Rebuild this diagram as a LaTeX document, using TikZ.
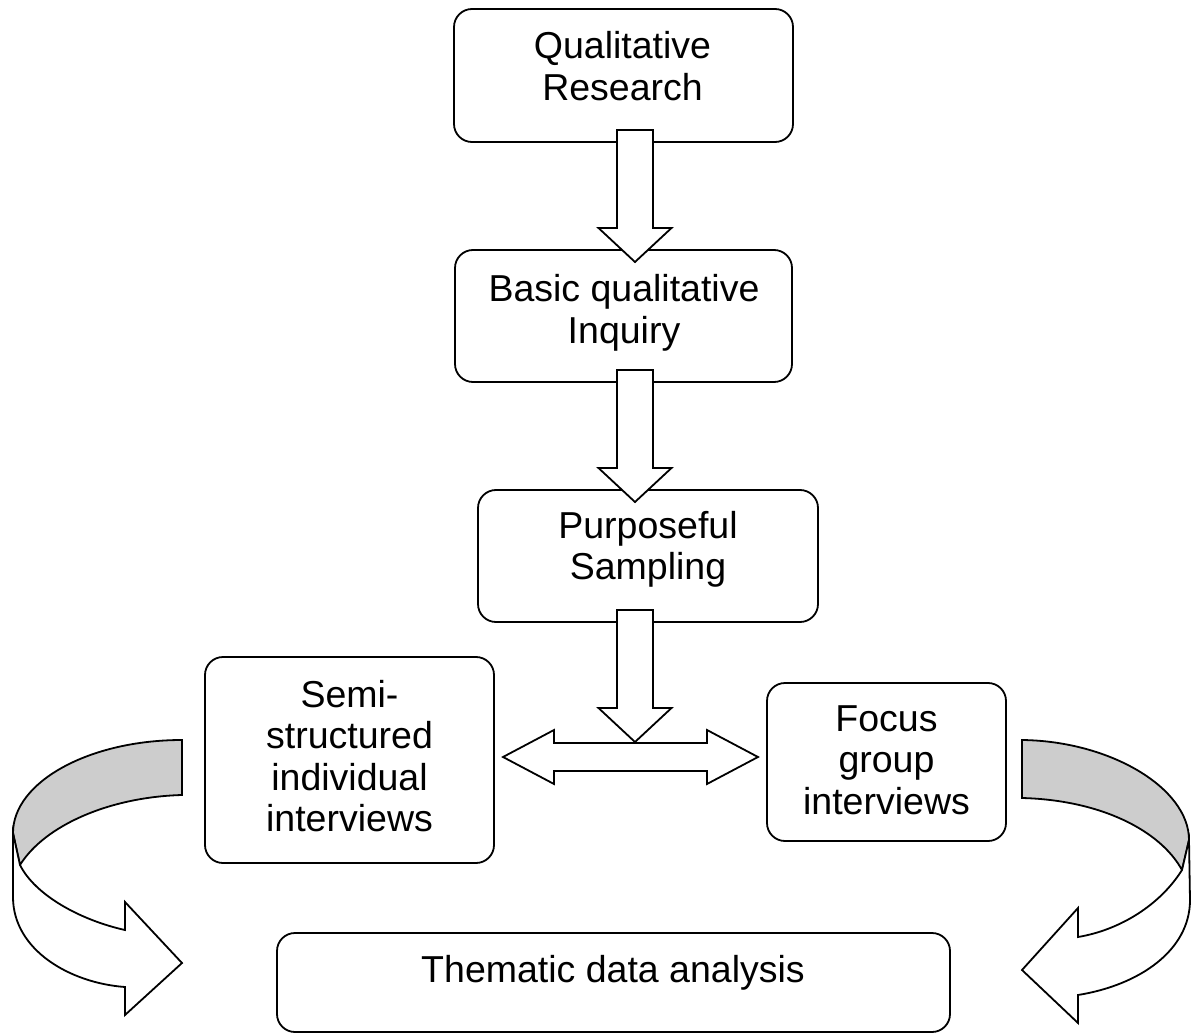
\documentclass[tikz,border=0pt]{standalone}
\usepackage{fontspec}
\setmainfont{Liberation Sans}
\definecolor{bandgray}{RGB}{205,205,205}

% fat downward block arrow: centre x, top of shaft, tip
\newcommand\downblock[3]{%
  \draw[blockarrow] (#1-18,#2) -- (#1+18,#2) -- (#1+18,#3-34) -- (#1+36.5,#3-34)
    -- (#1,#3) -- (#1-36.5,#3-34) -- (#1-18,#3-34) -- cycle;}

\begin{document}
\begin{tikzpicture}[x=1pt,y=-1pt,
  outline/.style={draw=black,line width=1.8pt,line join=miter},
  stepbox/.style={outline,rounded corners=18pt,fill=white,inner sep=0pt},
  caption/.style={align=center,inner sep=0pt,
    font=\fontsize{37.5}{41.5}\selectfont,
    execute at begin node={\rule{0pt}{30pt}},
    execute at end node={\rule[-9pt]{0pt}{9pt}}},
  blockarrow/.style={outline,fill=white},
  band/.style={outline,fill=bandgray}]

\useasboundingbox (0,0) rectangle (1192,1035);

% ---- left ribbon arrow (back side grey, front side white) ----
\draw[band] (182,740) -- (182,795) .. controls (110,797) and (45,825) .. (20,865)
  -- (13,833) .. controls (13,782) and (89,740) .. (182,740) -- cycle;
\draw[blockarrow] (13,833) -- (13,897) .. controls (13,950) and (70,983) .. (125,987)
  -- (125,1015) -- (182,963) -- (125,902) -- (125,930)
  .. controls (80,920) and (35,895) .. (20,865) -- cycle;

% ---- right ribbon arrow ----
\draw[band] (1022,740) -- (1022,798) .. controls (1100,800) and (1160,830) .. (1182,870)
  -- (1189,840) .. controls (1189,788) and (1110,741) .. (1022,740) -- cycle;
\draw[blockarrow] (1189,840) -- (1190,900) .. controls (1190,950) and (1140,985) .. (1078,995)
  -- (1078,1023) -- (1022,970) -- (1078,908) -- (1078,937)
  .. controls (1120,930) and (1160,905) .. (1182,870) -- cycle;

% ---- boxes ----
\node[stepbox,minimum width=339pt,minimum height=133pt] (qr)  at (623.5,75.5) {};
\node[stepbox,minimum width=337pt,minimum height=132pt] (bqi) at (623.5,316) {};
\node[stepbox,minimum width=340pt,minimum height=132pt] (ps)  at (648,556) {};
\node[stepbox,minimum width=289pt,minimum height=206pt] (ssi) at (349.5,760) {};
\node[stepbox,minimum width=239pt,minimum height=158pt] (fgi) at (886.5,762) {};
\node[stepbox,minimum width=673pt,minimum height=99pt]  (tda) at (613.5,982.5) {};

% ---- box captions ----
\node[caption] (qr-text)  at (622.5,70.5)  {Qualitative\\Research};
\node[caption] (bqi-text) at (624,313.5)   {Basic qualitative\\Inquiry};
\node[caption] (ps-text)  at (648,550)     {Purposeful\\Sampling};
\node[caption] (ssi-text) at (349.5,760.5) {Semi-\\structured\\individual\\interviews};
\node[caption] (fgi-text) at (886.5,764.5) {Focus\\group\\interviews};
\node[caption] (tda-text) at (613,971.5)   {Thematic data analysis};

% ---- block arrows between the steps ----
\downblock{635}{130}{262}
\downblock{635}{370}{502}
\downblock{635}{610}{742}
\draw[blockarrow] (503,757) -- (554,730) -- (554,743) -- (707,743) -- (707,730)
  -- (758,757) -- (707,784) -- (707,771) -- (554,771) -- (554,784) -- cycle;

\end{tikzpicture}
\end{document}
